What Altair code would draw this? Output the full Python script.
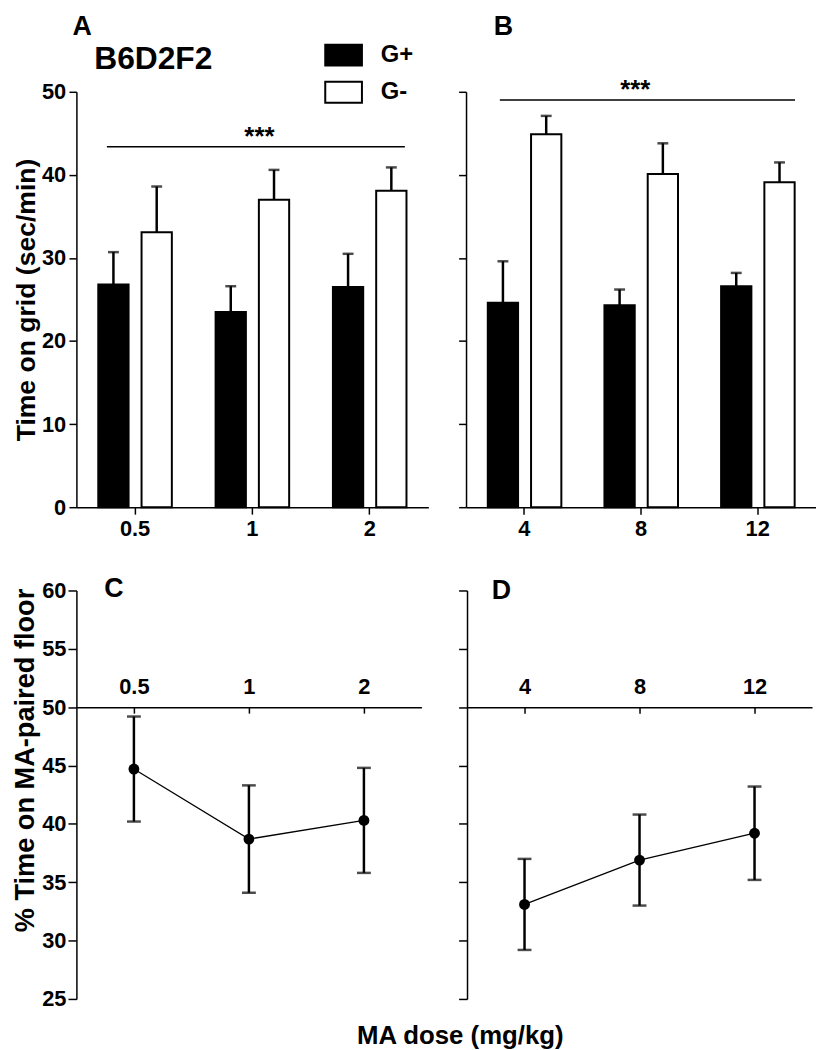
import altair as alt
import pandas as pd

FONT = "Liberation Sans"

# ---------------- data ----------------
groups = ["G+", "G-"]
doses_a = ["0.5", "1", "2"]
doses_b = ["4", "8", "12"]

gplus_a = [26.8, 23.5, 26.5]
gplus_a_sem = [3.9, 3.1, 4.0]
gminus_a = [33.1, 37.0, 38.1]
gminus_a_sem = [5.5, 3.6, 2.8]

gplus_b = [24.6, 24.3, 26.6]
gplus_b_sem = [5.0, 1.9, 1.6]
gminus_b = [44.9, 40.1, 39.1]
gminus_b_sem = [2.2, 3.7, 2.4]

# significance bars: span (in dose-index units), height, label position
sig_a_span = [-0.24, 2.30]
sig_a_y = 43.4
sig_a_text_x = 1.06
sig_b_span = [-0.21, 2.32]
sig_b_y = 49.0
sig_b_text_x = 0.95
sig_label = "***"

pref_c = [44.7, 38.7, 40.3]
pref_c_sem = [4.5, 4.6, 4.5]
pref_d = [33.1, 36.9, 39.2]
pref_d_sem = [3.9, 3.9, 4.0]

H_TOP = 419
W_BOT, H_BOT = 348, 412
LABEL_SIZE = 22
LETTER_SIZE = 27


def bar_panel(doses, gp, gps, gm, gms, span, sy, tx, letter, ldx, loff, show_y, legend, width):
    n = len(doses)
    df = pd.DataFrame({
        "dose": doses + doses,
        "group": [groups[0]] * n + [groups[1]] * n,
        "mean": gp + gm,
        "sem": gps + gms,
    })
    df["upper"] = df["mean"] + df["sem"]
    xscale = alt.Scale(domain=doses, paddingInner=0.373, paddingOuter=0.1865)
    xaxis = alt.Axis(title=None, labelAngle=0, tickSize=7, labelPadding=5)
    yscale = alt.Scale(domain=[0, 50], nice=False, zero=True)
    if show_y:
        yaxis = alt.Axis(values=[0, 10, 20, 30, 40, 50], title="Time on grid (sec/min)",
                         titleFontSize=26.8, tickSize=7.5, labelPadding=3.3, titlePadding=1.4)
    else:
        yaxis = alt.Axis(values=[0, 10, 20, 30, 40, 50], labels=False, title=None, tickSize=7.5)
    xoff = alt.XOffset("group:N", sort=groups,
                       scale=alt.Scale(domain=groups, paddingInner=0.3, paddingOuter=0))
    base = alt.Chart(df)
    bars = base.mark_bar(stroke="black", strokeWidth=2).encode(
        x=alt.X("dose:N", sort=doses, scale=xscale, axis=xaxis),
        xOffset=xoff,
        y=alt.Y("mean:Q", scale=yscale, axis=yaxis),
        color=alt.Color("group:N", sort=groups,
                        scale=alt.Scale(domain=groups, range=["black", "white"]),
                        legend=legend),
    )
    err = base.mark_rule(color="black", strokeWidth=2.5).encode(
        x=alt.X("dose:N", sort=doses, scale=xscale, axis=None),
        xOffset=xoff,
        y=alt.Y("mean:Q", scale=yscale, axis=yaxis),
        y2="upper:Q",
    )
    cap = base.mark_tick(color="black", thickness=2.5, size=11).encode(
        x=alt.X("dose:N", sort=doses, scale=xscale, axis=None),
        xOffset=xoff,
        y=alt.Y("upper:Q", scale=yscale, axis=yaxis),
    )
    sig_df = pd.DataFrame({"x0": [span[0]], "x1": [span[1]], "y": [sy],
                           "xt": [tx], "label": [sig_label]})
    qscale = alt.Scale(domain=[-0.5, n - 0.5], nice=False, zero=False)
    sig_line = alt.Chart(sig_df).mark_rule(color="black", strokeWidth=1.5).encode(
        x=alt.X("x0:Q", scale=qscale, axis=None),
        x2="x1:Q",
        y=alt.Y("y:Q", scale=yscale, axis=yaxis),
    )
    sig_text = alt.Chart(sig_df).mark_text(
        font=FONT, fontSize=26, fontWeight="bold", color="black",
        baseline="alphabetic", align="center", dy=-2,
    ).encode(
        x=alt.X("xt:Q", scale=qscale, axis=None),
        y=alt.Y("y:Q", scale=yscale, axis=yaxis),
        text="label:N",
    )
    return alt.layer(bars, err, cap, sig_line, sig_text).resolve_scale(
        x="independent"
    ).properties(
        width=width, height=H_TOP,
        title=alt.TitleParams(letter, anchor="start", frame="group", dx=ldx, offset=loff,
                              baseline="top", fontSize=LETTER_SIZE),
    )


def line_panel(doses, m, s, letter, ldx, loff, show_y):
    df = pd.DataFrame({"dose": doses, "mean": m, "sem": s})
    df["lo"] = df["mean"] - df["sem"]
    df["hi"] = df["mean"] + df["sem"]
    xscale = alt.Scale(type="point", domain=doses, padding=0.5)
    axis_off = -(H_BOT * (50 - 25) / (60 - 25))
    xaxis = alt.Axis(orient="bottom", offset=axis_off, title=None, labelAngle=0,
                     tickSize=6, labelPadding=-20.3, labelBaseline="alphabetic")
    yscale = alt.Scale(domain=[25, 60], nice=False, zero=False)
    vals = [25, 30, 35, 40, 45, 50, 55, 60]
    if show_y:
        yaxis = alt.Axis(values=vals, title="% Time on MA-paired floor", titleFontSize=27.4,
                         tickSize=8.5, labelPadding=2, titlePadding=2.6, titleY=171)
    else:
        yaxis = alt.Axis(values=vals, labels=False, title=None, tickSize=8.5)
    x = alt.X("dose:N", sort=doses, scale=xscale, axis=xaxis)
    base = alt.Chart(df)
    line = base.mark_line(color="black", strokeWidth=1.3).encode(
        x=x, y=alt.Y("mean:Q", scale=yscale, axis=yaxis))
    err = base.mark_rule(color="black", strokeWidth=2.5).encode(
        x=x, y=alt.Y("lo:Q", scale=yscale, axis=yaxis), y2="hi:Q")
    cap_lo = base.mark_tick(color="black", thickness=2.5, size=14).encode(
        x=x, y=alt.Y("lo:Q", scale=yscale, axis=yaxis))
    cap_hi = base.mark_tick(color="black", thickness=2.5, size=14).encode(
        x=x, y=alt.Y("hi:Q", scale=yscale, axis=yaxis))
    pts = base.mark_circle(color="black", size=120, opacity=1).encode(
        x=x, y=alt.Y("mean:Q", scale=yscale, axis=yaxis))
    return alt.layer(line, err, cap_lo, cap_hi, pts).properties(
        width=W_BOT, height=H_BOT,
        title=alt.TitleParams(letter, anchor="start", frame="group", dx=ldx, offset=loff,
                              baseline="alphabetic", fontSize=LETTER_SIZE),
    )


legend_a = alt.Legend(
    orient="none", legendX=18, legendY=-56.5, padding=0,
    title="B6D2F2", titleOrient="left", titleAnchor="start",
    titleBaseline="line-top", titleLineHeight=49,
    titleFont=FONT, titleFontSize=32, titleFontWeight="bold", titleColor="black",
    titlePadding=112,
    symbolType="M-1,-0.57H1V0.57H-1Z", symbolSize=1369,
    symbolStrokeColor="black", symbolStrokeWidth=2,
    labelFont=FONT, labelFontSize=24, labelFontWeight="bold", labelColor="black",
    labelOffset=18, rowPadding=2.5,
)

panel_a = bar_panel(doses_a, gplus_a, gplus_a_sem, gminus_a, gminus_a_sem,
                    sig_a_span, sig_a_y, sig_a_text_x, "A", -4, -5, True, legend_a, 355)
panel_b = bar_panel(doses_b, gplus_b, gplus_b_sem, gminus_b, gminus_b_sem,
                    sig_b_span, sig_b_y, sig_b_text_x, "B", 28, 37, False, None, 353)
panel_c = line_panel(doses_a, pref_c, pref_c_sem, "C", 28, -45, True)
panel_d = line_panel(doses_b, pref_d, pref_d_sem, "D", 25, -36, False)

top = alt.hconcat(panel_a, panel_b, spacing=29).resolve_scale(
    color="independent").resolve_legend(color="independent")
bottom = alt.hconcat(panel_c, panel_d, spacing=36).properties(
    title=alt.TitleParams("MA dose (mg/kg)", orient="bottom", anchor="middle",
                          dx=49, offset=34, baseline="alphabetic", fontSize=26)
)

chart = alt.vconcat(top, bottom, spacing=36).properties(
    padding={"left": 3, "top": 0, "right": 0, "bottom": 0}
).configure_view(
    stroke=None
).configure_axis(
    grid=False, domainColor="black", domainWidth=1.5, tickColor="black", tickWidth=1.5,
    labelColor="black", labelFont=FONT, labelFontSize=LABEL_SIZE, labelFontWeight="bold",
    titleColor="black", titleFont=FONT, titleFontSize=26, titleFontWeight="bold",
).configure_title(
    font=FONT, fontWeight="bold", color="black"
)

chart.save("out.html", embed_options={"renderer": "svg", "actions": False})
